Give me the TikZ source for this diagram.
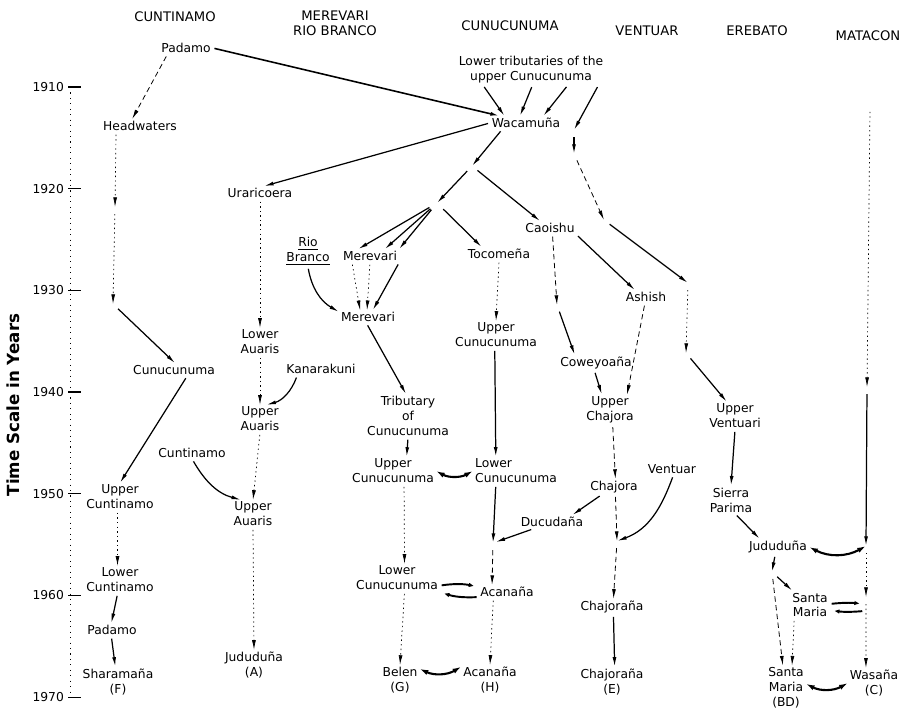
\documentclass[tikz,border=0pt]{standalone}
\usepackage{fontspec}
\setmainfont{DejaVu Sans}
\usetikzlibrary{arrows.meta}
\newcommand{\lblfont}{\fontsize{7}{8.5}\selectfont}
\newcommand{\hdrfont}{\fontsize{7.5}{8.5}\selectfont}

\begin{document}
\begin{tikzpicture}[
  village/.style={font=\lblfont,align=center,inner sep=1pt},
  hdr/.style={font=\hdrfont,align=center,inner sep=1pt},
  yr/.style={font=\lblfont,anchor=east,inner sep=1pt},
  arr/.style={-{Latex[length=5.5pt,width=2.2pt]},line width=0.7pt,shorten <=1pt},
  dotarr/.style={arr,line width=0.4pt,dash pattern=on 0.8pt off 1.8pt},
  dasharr/.style={arr,line width=0.45pt,dash pattern=on 3pt off 2pt},
  xarr/.style={arr,line width=1.1pt},
  xch/.style={{Latex[length=5pt,width=3pt]}-{Latex[length=5pt,width=3pt]},
              line width=1.2pt,bend right=28},
  cont/.style={shorten <=4pt},
  fan/.style={shorten <=5pt},
  x=0.02cm,y=0.02cm
]
\useasboundingbox (0,0) rectangle (899,-710);

% time scale
\node[rotate=90,font=\fontsize{9.5}{10}\selectfont\bfseries] (TS) at (13,-405)
  {Time Scale in Years};
\draw[line width=0.35pt,dash pattern=on 0.6pt off 2.5pt] (70,-87) -- (70,-697);
\foreach \yy [count=\i from 0] in {1910,1920,...,1970}{
  \node[yr] (Y\yy) at (66,{-87-101.67*\i}) {\yy};
  \draw[line width=0.6pt] (Y\yy.east) ++(2,0) -- ++(13,0);
}

% river headings
\node[hdr] (HCT) at (175,-17) {CUNTINAMO};
\node[hdr] (HMR) at (335,-23) {MEREVARI\\RIO BRANCO};
\node[hdr] (HCU) at (510,-26) {CUNUCUNUMA};
\node[hdr] (HVE) at (647,-31) {VENTUAR};
\node[hdr] (HER) at (757,-31) {EREBATO};
\node[hdr] (HMA) at (868,-36) {MATACON};

% villages
\node[village] (PAD1) at (186,-48)  {Padamo};
\node[village] (HW)   at (140,-126) {Headwaters};
\node[village] (TRIB) at (531,-70)  {Lower tributaries of the\\upper Cunucunuma};
\node[village] (WAC)  at (526,-123) {Wacamuña};
\node[village] (URA)  at (260,-193) {Uraricoera};
\node[village] (CAO)  at (550,-228) {Caoishu};
\node[village] (RB)   at (308,-251) {\underline{Rio}\\\underline{Branco}};
\node[village] (MER1) at (370,-256) {Merevari};
\node[village] (TOC)  at (499,-254) {Tocomeña};
\node[village] (ASH)  at (646,-297) {Ashish};
\node[village] (MER2) at (368,-317) {Merevari};
\node[village] (UCU1) at (496,-335) {Upper\\Cunucunuma};
\node[village] (LAU)  at (260,-342) {Lower\\Auaris};
\node[village] (COW)  at (596,-363) {Coweyoaña};
\node[village] (KAN)  at (321,-369) {Kanarakuni};
\node[village] (CUN)  at (174,-370) {Cunucunuma};
\node[village] (UCH)  at (610,-410) {Upper\\Chajora};
\node[village] (TRC)  at (408,-416) {Tributary\\of\\Cunucunuma};
\node[village] (UVE)  at (735,-416) {Upper\\Ventuari};
\node[village] (UAU1) at (260,-419) {Upper\\Auaris};
\node[village] (CTN)  at (192,-453) {Cuntinamo};
\node[village] (VEN)  at (672,-469) {Ventuar};
\node[village] (UCU2) at (393,-471) {Upper\\Cunucunuma};
\node[village,align=left] (LCU1) at (516,-471) {Lower\\Cunucunuma};
\node[village] (CHA)  at (614,-487) {Chajora};
\node[village] (UCT)  at (120,-497) {Upper\\Cuntinamo};
\node[village] (SIP)  at (731,-500) {Sierra\\Parima};
\node[village] (UAU2) at (253,-514) {Upper\\Auaris};
\node[village] (DUC)  at (552,-522) {Ducudaña};
\node[village] (JUD2) at (778,-547) {Jududuña};
\node[village] (LCT)  at (120,-580) {Lower\\Cuntinamo};
\node[village] (LCU2) at (397,-578) {Lower\\Cunucunuma};
\node[village] (ACA1) at (507,-592) {Acanaña};
\node[village] (SMA1) at (810,-605) {Santa\\Maria};
\node[village] (CHR1) at (612,-607) {Chajoraña};
\node[village] (PAD2) at (112,-630) {Padamo};
\node[village] (JUD1) at (254,-665) {Jududuña\\(A)};
\node[village] (BEL)  at (400,-680) {Belen\\(G)};
\node[village] (ACA2) at (490,-680) {Acanaña\\(H)};
\node[village] (CHR2) at (612,-682) {Chajoraña\\(E)};
\node[village] (SHA)  at (118,-682) {Sharamaña\\(F)};
\node[village] (SMA2) at (786,-688) {Santa\\Maria\\(BD)};
\node[village] (WAS)  at (874,-683) {Wasaña\\(C)};

% unnamed stops
\coordinate (hw1)  at (115,-207);
\coordinate (hw2)  at (113,-304);
\coordinate (f1)   at (472,-166);
\coordinate (f2)   at (437,-203);
\coordinate (v1)   at (574,-130);
\coordinate (v2)   at (574,-154);
\coordinate (v3)   at (604,-220);
\coordinate (v4)   at (688,-283);
\coordinate (v5)   at (686,-353);
\coordinate (cao1) at (557,-305);
\coordinate (cha1) at (617,-541);
\coordinate (lc1)  at (493,-543);
\coordinate (j1)   at (772,-572);
\coordinate (mt0)  at (870,-110);
\coordinate (mt1)  at (867,-387);
\coordinate (mt2)  at (866,-546);
\coordinate (mt3)  at (866,-597);
\coordinate (mx1)  at (864,-604);
\coordinate (mx2)  at (864,-611);

% Cuntinamo
\draw[dasharr] (PAD1.200) -- (HW.139);
\draw[arr,line width=0.9pt] (PAD1.east) -- (WAC.165);
\draw[dotarr] (HW.196) -- (hw1);
\draw[dotarr,cont] (hw1) -- (hw2);
\draw[arr,cont] (hw2) -- (CUN.80);
\draw[arr] (CUN.-28) -- (UCT.north);
\draw[dotarr] (UCT.-100) -- (LCT.100);
\draw[arr] (LCT.-100) -- (PAD2.95);
\draw[arr] (PAD2.-95) -- (SHA.100);

% Uraricoera / Auaris
\draw[arr] (WAC.west) -- (URA.60);
\draw[dotarr] (URA.south) -- (LAU.north);
\draw[dotarr] (LAU.south) -- (UAU1.north);
\draw[arr] (KAN.196) to[out=-110,in=15] (UAU1.66);
\draw[dotarr] (UAU1.south) -- (UAU2.north);
\draw[arr] (CTN.-85) to[out=-60,in=165] (UAU2.130);
\draw[dotarr] (UAU2.south) -- (JUD1.north);

% Merevari / Rio Branco
\draw[arr] (WAC.196) -- (f1);
\draw[arr,cont] (f1) -- (f2);
\draw[arr,cont] (f1) -- (CAO.145);
\draw[arr,fan] (f2) -- (MER1.150);
\draw[arr,fan] (f2) -- (MER1.25);
\draw[arr,fan] (f2) -- (MER1.north east);
\draw[arr,fan] (f2) -- (TOC.158);
\draw[dotarr] (MER1.201) -- (MER2.139);
\draw[dotarr] (MER1.south) -- (MER2.98);
\draw[arr] (MER1.south east) -- (MER2.55);
\draw[arr] (RB.south) to[out=-80,in=150] (MER2.170);
\draw[arr] (MER2.-100) -- (TRC.95);
\draw[arr] (TRC.south) -- (UCU2.46);
\draw[xch] (UCU2.east) to (LCU1.west);
\draw[dotarr] (UCU2.-52) -- (LCU2.62);
\draw[xarr] (LCU2.-10) to[bend left=10] (ACA1.170);
\draw[xarr] (ACA1.190) to[bend left=10] (LCU2.south east);
\draw[dotarr] (LCU2.-62) -- (BEL.north);
\draw[xch] (BEL.30) to (ACA2.155);

% Cunucunuma
\draw[arr] (TRIB.198) -- (WAC.162);
\draw[arr] (TRIB.275) -- (WAC.131);
\draw[arr] (TRIB.-23) -- (WAC.22);
\draw[dotarr] (TOC.south) -- (UCU1.north);
\draw[arr] (UCU1.-95) -- (LCU1.145);
\draw[arr] (LCU1.-145) -- (lc1);
\draw[dasharr,cont] (lc1) -- (ACA1.155);
\draw[dotarr] (ACA1.207) -- (ACA2.north);

% Caoishu / Chajora
\draw[arr] (CAO.south east) -- (ASH.148);
\draw[dasharr] (CAO.-70) -- (cao1);
\draw[arr,cont] (cao1) -- (COW.159);
\draw[dasharr] (ASH.-100) -- (UCH.42);
\draw[arr] (COW.-100) -- (UCH.118);
\draw[dasharr] (UCH.-80) -- (CHA.80);
\draw[arr] (CHA.212) -- (DUC.19);
\draw[arr,shorten >=1.5pt] (DUC.200) -- (lc1);
\draw[dasharr] (CHA.-80) -- (cha1);
\draw[arr] (VEN.-80) to[out=-110,in=20] (cha1);
\draw[dasharr,cont] (cha1) -- (CHR1.80);
\draw[arr] (CHR1.-80) -- (CHR2.80);

% Ventuari
\draw[arr] (TRIB.-13) -- (v1);
\draw[arr,cont] (v1) -- (v2);
\draw[dasharr,cont] (v2) -- (v3);
\draw[arr,cont] (v3) -- (v4);
\draw[dotarr,cont] (v4) -- (v5);
\draw[arr,cont] (v5) -- (UVE.120);
\draw[arr] (UVE.south) -- (SIP.north);
\draw[arr] (SIP.-72) -- (JUD2.156);
\draw[arr] (JUD2.-110) -- (j1);
\draw[arr,cont] (j1) -- (SMA1.141);
\draw[dasharr,cont] (j1) -- (SMA2.98);
\draw[dotarr] (SMA1.222) -- (SMA2.75);
\draw[xch] (JUD2.east) to (mt2);
\draw[xarr] (SMA1.3) to[bend left=6] (mx1);
\draw[xarr] (mx2) to[bend left=6] (SMA1.-15);
\draw[xch] (SMA2.12) to (WAS.west);

% Matacon
\draw[dotarr] (mt0) -- (mt1);
\draw[arr,cont] (mt1) -- (mt2);
\draw[dotarr,cont] (mt2) -- (mt3);
\draw[dotarr,cont] (mt3) -- (WAS.118);
\end{tikzpicture}
\end{document}
